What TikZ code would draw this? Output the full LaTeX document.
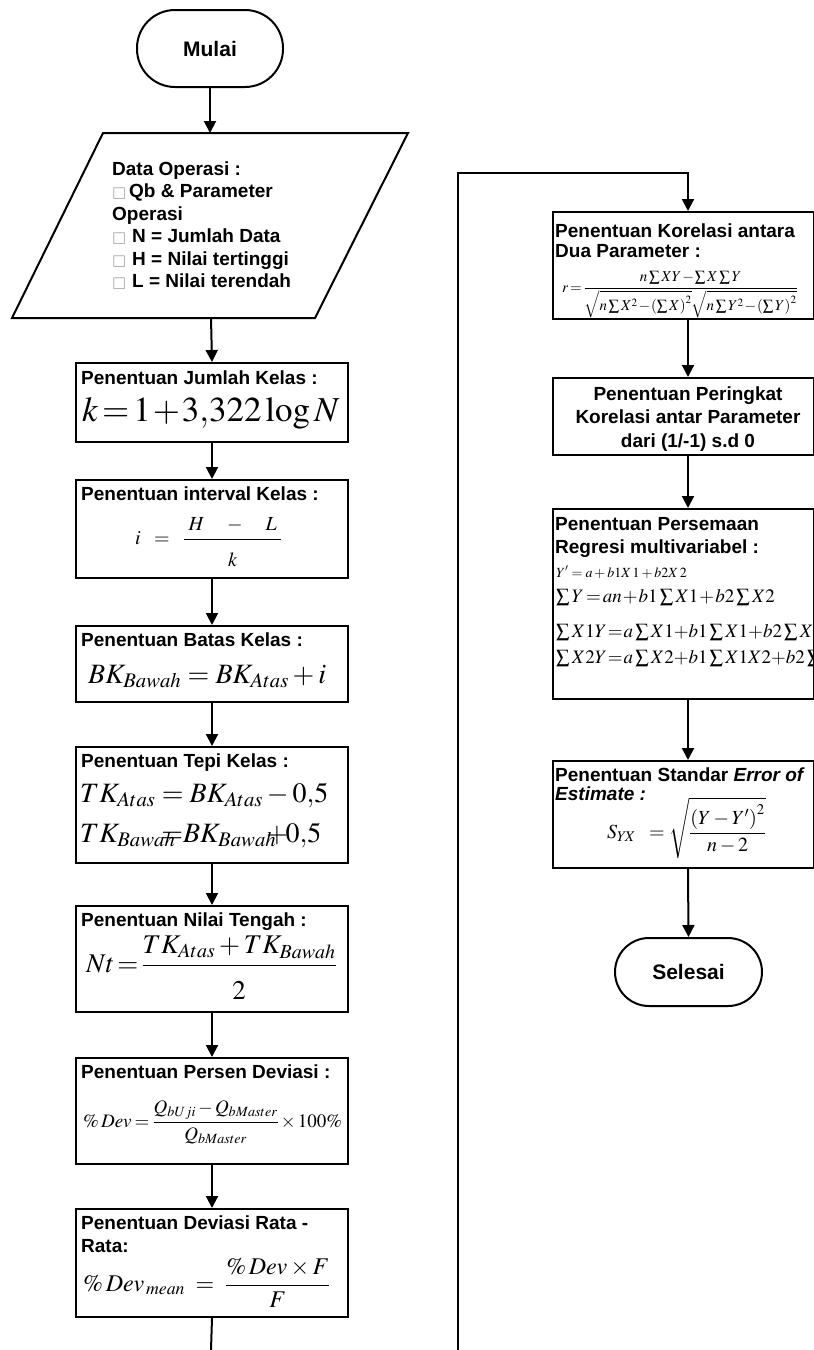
\documentclass[tikz,border=0pt]{standalone}
\usepackage{amsmath}
\usepackage{mathptmx}
\usepackage[no-math]{fontspec}
\setmainfont{Liberation Sans}
\newfontfamily\dejavu{DejaVu Sans}
\usetikzlibrary{arrows.meta}
\tikzset{
  ln/.style={line width=2pt},
  arr/.style={line width=2pt,-{Triangle[length=12pt,width=12pt]}},
  box/.style={draw,line width=2pt,inner sep=0pt,anchor=north west},
  term/.style={draw,line width=2pt,inner sep=0pt,font=\fontsize{21}{24}\selectfont\bfseries},
  ttl/.style={anchor=base west,inner sep=0pt,font=\fontsize{19}{22}\selectfont\bfseries},
  ttc/.style={anchor=base,inner sep=0pt,font=\fontsize{19}{22}\selectfont\bfseries},
  bul/.style={anchor=base west,inner sep=0pt,text=black!35,font=\dejavu\fontsize{15}{16}\selectfont},
  fm/.style={anchor=base west,inner sep=0pt},
}
\begin{document}
\begin{tikzpicture}[x=1pt,y=-1pt]
\useasboundingbox (0,0) rectangle (814,1350);
\clip (0,0) rectangle (814,1350);
% ---------------- left column
\node[term,rounded corners=38pt,minimum width=146pt,minimum height=77pt] (mulai) at (210,48.5) {Mulai};
\draw[ln] (103,133) -- (408,133) -- (315,318) -- (12,318) -- cycle;
\coordinate (ptop) at (210,133);
\coordinate (pbot) at (211,318);
\node[ttl] (p1) at (112,175) {Data Operasi :};
\node[bul] (q2) at (112,197) {□};
\node[ttl] (p2) at (129,197) {Qb \& Parameter};
\node[ttl] (p3) at (112,220) {Operasi};
\node[bul] (q4) at (112,242) {□};
\node[ttl] (p4) at (132,242) {N = Jumlah Data};
\node[bul] (q5) at (112,265) {□};
\node[ttl] (p5) at (132,265) {H = Nilai tertinggi};
\node[bul] (q6) at (112,287) {□};
\node[ttl] (p6) at (132,287) {L = Nilai terendah};

\node[box,minimum width=272pt,minimum height=79pt] (b1) at (75,362) {};
\node[ttl] (t1) at (81,384) {Penentuan Jumlah Kelas :};
\node[fm,font=\fontsize{35}{38}\selectfont] (f1) at (82,421) {$\thickmuskip=2mu\medmuskip=1mu k=1+3{,}322\log N$};

\node[box,minimum width=272pt,minimum height=98pt] (b2) at (75,479) {};
\node[ttl] (t2) at (81,500) {Penentuan interval Kelas :};
\node[fm,font=\fontsize{20}{22}\selectfont] (f2) at (135,544) {$i\;\;=\;\;\dfrac{\;H\quad-\quad L\;}{\rule{0pt}{25pt}k}$};

\node[box,minimum width=272pt,minimum height=76pt] (b3) at (75,625) {};
\node[ttl] (t3) at (81,646) {Penentuan Batas Kelas :};
\node[fm,font=\fontsize{28}{30}\selectfont] (f3) at (88,683) {$BK_{Bawah}=BK_{Atas}+i$};

\node[box,minimum width=272pt,minimum height=116pt] (b4) at (75,746) {};
\node[ttl] (t4) at (81,767) {Penentuan Tepi Kelas :};
\node[fm,font=\fontsize{28}{30}\selectfont] (f4a) at (80,802) {$TK_{Atas}=BK_{Atas}-0{,}5$};
\node[fm,font=\fontsize{28}{30}\selectfont] (f4b) at (80,842) {$TK_{Bawah}\mkern-13mu=\mkern-4mu BK_{Bawah}\mkern-9mu+\mkern-4mu0{,}5$};

\node[box,minimum width=272pt,minimum height=106pt] (b5) at (75,905) {};
\node[ttl] (t5) at (81,926) {Penentuan Nilai Tengah :};
\node[fm,font=\fontsize{27}{30}\selectfont] (f5) at (86,972) {$Nt\!=\!\dfrac{TK_{Atas}+TK_{Bawah}\rule[-6pt]{0pt}{0pt}}{\rule{0pt}{30pt}2}$};

\node[box,minimum width=272pt,minimum height=106pt] (b6) at (75,1057) {};
\node[ttl] (t6) at (81,1078) {Penentuan Persen Deviasi :};
\node[fm,font=\fontsize{19}{22}\selectfont] (f6) at (83,1127) {$\thickmuskip=3mu\medmuskip=2mu\%\,Dev=\dfrac{Q_{bUji}-Q_{bMaster}}{Q_{bMaster}}\times100\%$};

\node[box,minimum width=272pt,minimum height=108pt] (b7) at (75,1208) {};
\node[ttl] (t7a) at (81,1229) {Penentuan Deviasi Rata -};
\node[ttl] (t7b) at (81,1252) {Rata:};
\node[fm,font=\fontsize{24}{26}\selectfont] (f7) at (83,1291) {$\%\,Dev_{\,mean}\;=\;\dfrac{\%\,Dev\times F}{F}$};

\coordinate (lb) at (211,1350);
\draw[arr] (mulai.south) -- (ptop);
\draw[arr] (pbot) -- (b1.north);
\draw[arr] (b1.south) -- (b2.north);
\draw[arr] (b2.south) -- (b3.north);
\draw[arr] (b3.south) -- (b4.north);
\draw[arr] (b4.south) -- (b5.north);
\draw[arr] (b5.south) -- (b6.north);
\draw[arr] (b6.south) -- (b7.north);
\draw[ln] (b7.south) -- (lb);

% ---------------- right column
\coordinate (rx) at (688,0);
\coordinate (cb) at (458,1350);
\coordinate (ct) at (458,173);

\node[box,minimum width=261pt,minimum height=107pt] (r1) at (552,211) {};
\node[ttl] (s1a) at (555,237) {Penentuan Korelasi antara};
\node[ttl] (s1b) at (555,257) {Dua Parameter :};
\node[fm,font=\fontsize{15}{16}\selectfont] (g1) at (562,292) {$\thickmuskip=2mu\medmuskip=1mu r=\dfrac{n\sum XY-\sum X\sum Y}{\sqrt{n\sum X^2-\left(\sum X\right)^2}\sqrt{n\sum Y^2-\left(\sum Y\right)^2}}$};

\node[box,minimum width=261pt,minimum height=77pt] (r2) at (552,377) {};
\node[ttc] (s2a) at (688,400) {Penentuan Peringkat};
\node[ttc] (s2b) at (688,423) {Korelasi antar Parameter};
\node[ttc] (s2c) at (688,447) {dari (1/-1) s.d 0};

\node[box,minimum width=261pt,minimum height=190pt] (r3) at (552,508) {};
\node[ttl] (s3a) at (555,530) {Penentuan Persemaan};
\node[ttl] (s3b) at (555,553) {Regresi multivariabel :};
\node[fm,font=\fontsize{14}{16}\selectfont] (g3a) at (556,577) {$Y'=a+b1X\,1+b2X\,2$};
\node[fm,font=\fontsize{19}{21}\selectfont] (g3b) at (556,602) {$\thickmuskip=2mu\medmuskip=1mu\sum Y=an+b1\sum X1+b2\sum X2$};
\node[fm,font=\fontsize{19}{21}\selectfont] (g3c) at (556,637) {$\thickmuskip=1mu\medmuskip=0mu\sum X1Y=a\sum X1+b1\sum X1+b2\sum X1X2$};
\node[fm,font=\fontsize{19}{21}\selectfont] (g3d) at (556,663) {$\thickmuskip=1mu\medmuskip=0mu\sum X2Y=a\sum X2+b1\sum X1X2+b2\sum X2$};

\node[box,minimum width=261pt,minimum height=107pt] (r4) at (552,760) {};
\node[ttl] (s4a) at (555,781) {Penentuan Standar \textit{Error of}};
\node[ttl] (s4b) at (555,800) {\textit{Estimate :}};
\node[fm,font=\fontsize{20}{22}\selectfont] (g4) at (607,838) {$S_{Y\!X}\;\;=\sqrt{\dfrac{\left(Y-Y'\right)^2}{n-2}}$};

\node[term,rounded corners=34pt,minimum width=147pt,minimum height=68pt] (selesai) at (688.5,972) {Selesai};

\draw[arr] (cb) -- (ct) -| (r1.north -| rx);
\draw[arr] (r1.south -| rx) -- (r2.north -| rx);
\draw[arr] (r2.south -| rx) -- (r3.north -| rx);
\draw[arr] (r3.south -| rx) -- (r4.north -| rx);
\draw[arr] (r4.south -| rx) -- (selesai.north);
\end{tikzpicture}
\end{document}
